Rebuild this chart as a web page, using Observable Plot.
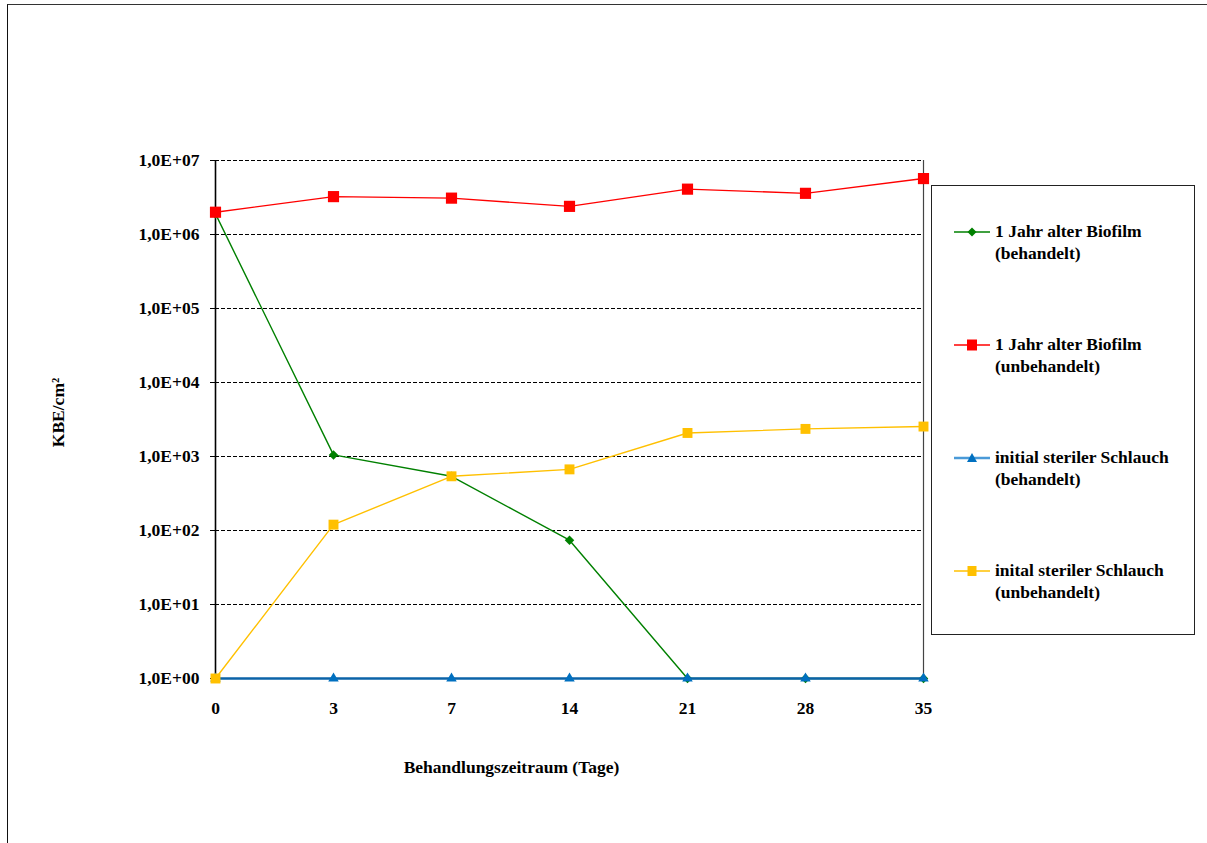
<!DOCTYPE html>
<html>
<head>
<meta charset="utf-8">
<script src="https://cdn.jsdelivr.net/npm/d3@7"></script>
<script src="https://cdn.jsdelivr.net/npm/@observablehq/plot@0.6"></script>
<style>
  html, body { margin: 0; padding: 0; background: #fff; }
  #chart { position: relative; width: 1207px; height: 843px; overflow: hidden;
           font-family: "Liberation Serif", "Times New Roman", serif; font-weight: bold; }
  #frame { position: absolute; left: 7px; top: 4px; width: 1300px; height: 900px;
           border-left: 1.5px solid #111; border-top: 1.5px solid #333; box-sizing: border-box; }
  #legend { position: absolute; left: 931px; top: 185px; width: 264px; height: 450px;
            border: 1px solid #222; box-sizing: border-box; background: #fff; }
  .entry { position: absolute; left: 22px; font-size: 17.5px; line-height: 22px; color: #000; }
  .entry svg { position: absolute; left: 0; }
  .entry .txt { position: absolute; left: 41px; top: -12px; white-space: nowrap; }
</style>
</head>
<body>
<div id="chart"><div id="frame"></div></div>
<script>
// Treatment period (days) on the x axis
const days = ["0", "3", "7", "14", "21", "28", "35"];

// Colony-forming units per cm² for each series
const biofilmTreated   = [1.9e6, 1050, 540, 74, 1, 1, 1];
const biofilmUntreated = [2.0e6, 3.25e6, 3.1e6, 2.4e6, 4.1e6, 3.6e6, 5.7e6];
const sterileTreated   = [1, 1, 1, 1, 1, 1, 1];
const sterileUntreated = [1, 120, 540, 670, 2080, 2360, 2540];

// Series names shown in the legend (two lines each)
const seriesNames = [
  ["1 Jahr alter Biofilm", "(behandelt)"],
  ["1 Jahr alter Biofilm", "(unbehandelt)"],
  ["initial steriler Schlauch", "(behandelt)"],
  ["inital steriler Schlauch", "(unbehandelt)"]
];
const seriesColors = ["#008000", "#ff0000", "#0070c0", "#ffc000"];
const lineColors   = ["#008000", "#ff0000", "#0b63a8", "#ffc000"];
const seriesSymbols = ["diamond2", "square", "triangle", "square"];
const seriesR = [4.3, 6.3, 3.9, 5.6];

// Log axis ticks and their labels
const yTicks = [1, 10, 100, 1000, 1e4, 1e5, 1e6, 1e7];
const yTickLabels = ["1,0E+00", "1,0E+01", "1,0E+02", "1,0E+03", "1,0E+04", "1,0E+05", "1,0E+06", "1,0E+07"];

const xTitle = "Behandlungszeitraum (Tage)";
const yTitle = "KBE/cm²";

const allValues = [biofilmTreated, biofilmUntreated, sterileTreated, sterileUntreated];
const table = allValues.map((vals, s) => days.map((d, i) => ({day: d, value: vals[i], s})));

const seriesMarks = table.flatMap((rows, s) => [
  Plot.line(rows, {x: "day", y: "value", stroke: lineColors[s], strokeWidth: s === 2 ? 2.6 : 1.4}),
  Plot.dot(rows, {x: "day", y: "value", symbol: seriesSymbols[s], r: seriesR[s], fill: seriesColors[s], stroke: "none"})
]);

const plot = Plot.plot({
  width: 1207,
  height: 843,
  marginLeft: 215,
  marginRight: 284,
  marginTop: 160,
  marginBottom: 165,
  style: {fontFamily: "'Liberation Serif', 'Times New Roman', serif", fontWeight: "bold", fontSize: "17.5px", color: "#000", background: "transparent"},
  x: {type: "point", domain: days, padding: 0},
  y: {type: "log", domain: [1, 1e7]},
  marks: [
    Plot.ruleY(yTicks.slice(1), {stroke: "#000", strokeWidth: 1, strokeDasharray: "4,2"}),
    Plot.ruleY([1], {stroke: "#000", strokeWidth: 1.2}),
    Plot.ruleX([days[0]], {stroke: "#000", strokeWidth: 1.6}),
    Plot.ruleX([days[days.length - 1]], {stroke: "#444", strokeWidth: 1.2}),
    Plot.axisY({ticks: yTicks, tickFormat: (d) => yTickLabels[yTicks.indexOf(d)], tickSize: 5, tickPadding: 11, tickStrokeWidth: 1, stroke: "#000", label: null, fontWeight: "bold"}),
    Plot.axisX({tickSize: 0, tickPadding: 23, label: null, fontWeight: "bold"}),
    Plot.text([xTitle], {frameAnchor: "bottom", dx: -58, dy: 94, text: (d) => d, fontWeight: "bold", fontSize: 17.5}),
    Plot.text([yTitle], {frameAnchor: "left", dx: -157, dy: -7, rotate: -90, textAnchor: "middle", text: (d) => d, fontWeight: "bold", fontSize: 17.5}),
    ...seriesMarks
  ]
});
document.getElementById("chart").appendChild(plot);

// Legend box to the right of the plot area
const legend = document.createElement("div");
legend.id = "legend";
const entryTops = [46, 159, 272, 385];
const symbolPath = {
  diamond2: "M18,-4.5L22.5,0L18,4.5L13.5,0Z",
  square: "M13,-5.5H23V5.5H13Z",
  triangle: "M18,-5L23,4L13,4Z"
};
const legendLine = ["#008000", "#ff0000", "#4a9ad8", "#ffc000"];
seriesNames.forEach((name, s) => {
  const e = document.createElement("div");
  e.className = "entry";
  e.style.top = entryTops[s] + "px";
  const sq = s === 3 ? "M13.5,-5H22.5V5H13.5Z" : symbolPath[seriesSymbols[s]];
  e.innerHTML = `<svg width="36" height="16" viewBox="0 -8 36 16" style="top:-8px">
      <line x1="0" x2="36" y1="0" y2="0" stroke="${legendLine[s]}" stroke-width="${s === 2 ? 2.5 : 1.5}"/>
      <path d="${sq}" fill="${seriesColors[s]}"/></svg>
    <div class="txt">${name[0]}<br>${name[1]}</div>`;
  legend.appendChild(e);
});
document.getElementById("chart").appendChild(legend);
</script>
</body>
</html>
